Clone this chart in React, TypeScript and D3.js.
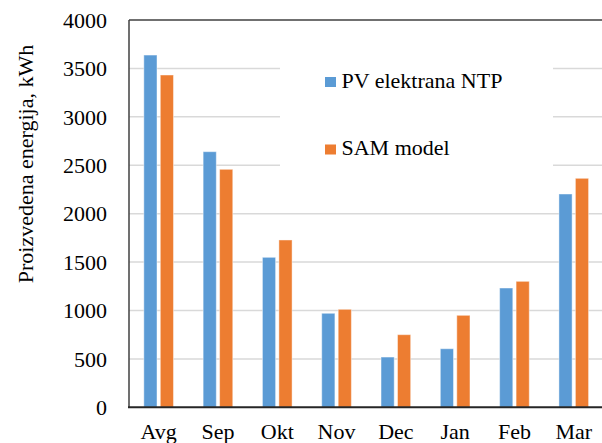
import React from "react";
import * as d3 from "d3";

const categories = ["Avg", "Sep", "Okt", "Nov", "Dec", "Jan", "Feb", "Mar"];
const seriesNames = ["PV elektrana NTP", "SAM model"];
const pvValues = [3638, 2640, 1549, 971, 519, 605, 1232, 2203];
const samValues = [3432, 2458, 1728, 1012, 750, 950, 1301, 2365];
const yTicks = [0, 500, 1000, 1500, 2000, 2500, 3000, 3500, 4000];
const colors = ["#5B9BD5", "#ED7D31"];
const yTitle = "Proizvedena energija, kWh";

const W = 602;
const H = 443;
const left = 129;
const top = 20;
const bottom = 407.3;
const step = 59.3;
const txt = { fontFamily: "'Liberation Serif', 'Times New Roman', serif" };

export default function App() {
  const x0 = d3
    .scaleBand<string>()
    .domain(categories)
    .range([left, left + step * categories.length])
    .paddingInner(0.5)
    .paddingOuter(0.25);
  const x1 = d3
    .scaleBand<string>()
    .domain(seriesNames)
    .range([0, x0.bandwidth()])
    .paddingInner(0.2);
  const y = d3.scaleLinear().domain([0, 4000]).range([bottom, top]);
  const series = [pvValues, samValues];
  const right = left + step * categories.length;

  return (
    <svg width={W} height={H} style={{ position: "absolute", left: 0, top: 0, background: "#fff", ...txt }}>
      {yTicks.filter((t) => t > 0 && t < 4000).map((t) => (
        <line key={t} x1={left} x2={right} y1={y(t)} y2={y(t)} stroke="#d9d9d9" strokeWidth={1.5} />
      ))}
      <rect x={280} y={45} width={273} height={145} fill="#fff" />
      {categories.map((c, i) => (
        <g key={c} transform={`translate(${x0(c)},0)`}>
          {series.map((vals, s) => (
            <rect
              key={s}
              x={x1(seriesNames[s])}
              y={y(vals[i])}
              width={x1.bandwidth()}
              height={y(0) - y(vals[i])}
              fill={colors[s]}
              stroke="#ffffff"
              strokeOpacity={0.45}
              strokeWidth={1}
            />
          ))}
        </g>
      ))}
      <line x1={left} x2={right} y1={top} y2={top} stroke="#404040" strokeWidth={1.5} />
      <line x1={left} x2={left} y1={top} y2={bottom} stroke="#404040" strokeWidth={1.5} />
      <line x1={left - 1} x2={right} y1={bottom} y2={bottom} stroke="#262626" strokeWidth={2} />
      {yTicks.map((t) => (
        <text key={t} x={107} y={y(t)} dy="0.35em" textAnchor="end" fontSize={22} fill="#000" style={txt}>
          {t}
        </text>
      ))}
      {categories.map((c) => (
        <text key={c} x={(x0(c) ?? 0) + x0.bandwidth() / 2} y={439} textAnchor="middle" fontSize={22} fill="#000" style={txt}>
          {c}
        </text>
      ))}
      <text transform={`translate(33,164) rotate(-90)`} textAnchor="middle" fontSize={22} fill="#000" style={txt}>
        {yTitle}
      </text>
      {seriesNames.map((n, i) => (
        <g key={n} transform={`translate(325,${77 + i * 67.5})`}>
          <rect x={0} y={0} width={11} height={10} fill={colors[i]} />
          <text x={16.5} y={10.5} fontSize={22} fill="#000" style={txt}>
            {n}
          </text>
        </g>
      ))}
    </svg>
  );
}
